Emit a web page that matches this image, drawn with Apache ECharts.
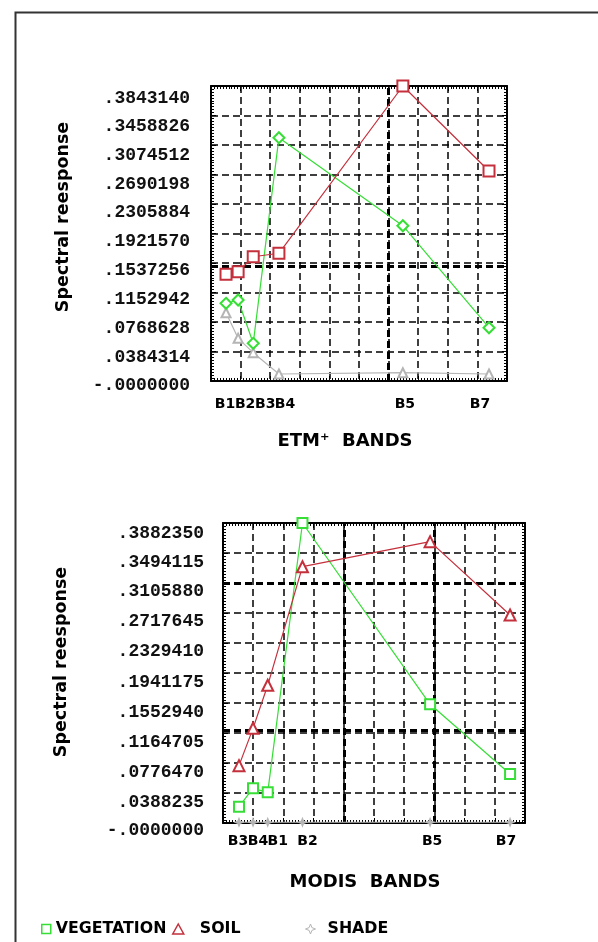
<!DOCTYPE html>
<html>
<head>
<meta charset="utf-8">
<title>Spectral response – ETM+ and MODIS bands</title>
<script src="https://cdn.jsdelivr.net/npm/echarts@6/dist/echarts.min.js"></script>
<style>
  html, body { margin: 0; padding: 0; background: #fff; }
  #chart { width: 598px; height: 942px; }
</style>
</head>
<body>
<div id="chart"></div>
<script>
// ---- ETM+ panel ----
const etmBands = ['B1', 'B2', 'B3', 'B4', 'B5', 'B7'];
const etmWave = [0.48, 0.56, 0.66, 0.83, 1.65, 2.22];           // band centres, µm
const etmVegetation = [0.1012, 0.1055, 0.0491, 0.3170, 0.2023, 0.0694];
const etmSoil = [0.1390, 0.1424, 0.1619, 0.1664, 0.384314, 0.2736];
const etmShade = [0.0890, 0.0556, 0.0369, 0.0091, 0.0108, 0.0091];
const etmTicks = ['-.0000000', '.0384314', '.0768628', '.1152942', '.1537256', '.1921570',
                  '.2305884', '.2690198', '.3074512', '.3458826', '.3843140'];

// ---- MODIS panel ----
const modisBands = ['B3', 'B4', 'B1', 'B2', 'B5', 'B7'];
const modisWave = [0.469, 0.555, 0.645, 0.858, 1.64, 2.13];     // positions on the µm scale
const modisVegetation = [0.0211, 0.0449, 0.0397, 0.388235, 0.1536, 0.0634];
const modisSoil = [0.0742, 0.1225, 0.1782, 0.3317, 0.3641, 0.2692];
const modisShade = [0.001, 0.001, 0.001, 0.001, 0.001, 0.001];
const modisTicks = ['-.0000000', '.0388235', '.0776470', '.1164705', '.1552940', '.1941175',
                    '.2329410', '.2717645', '.3105880', '.3494115', '.3882350'];

const legendNames = ['VEGETATION', 'SOIL', 'SHADE'];

const GREEN = '#36de36', RED = '#c4303c', GREY = '#b5b5b5', INK = '#000';
const SANS = '"DejaVu Sans", Verdana, sans-serif';
const MONO = '"Liberation Mono", "DejaVu Sans Mono", monospace';
const STAR = 'path://M5,0 L6.4,3.6 L10,5 L6.4,6.4 L5,10 L3.6,6.4 L0,5 L3.6,3.6 Z';

const pairs = (xs, ys) => xs.map((x, i) => [x, ys[i]]);

// per-label nudges (px) for the tick texts
function yRich(shifts) {
  const r = {};
  shifts.forEach((s, i) => { r['t' + i] = { padding: [2 * s, 0, 0, 0] }; });
  return r;
}
function xRich(shifts) {
  const r = {};
  shifts.forEach((s, i) => {
    r['b' + i] = { padding: s >= 0 ? [0, 0, 0, 2 * s] : [0, -2 * s, 0, 0] };
  });
  return r;
}

const dash = [7, 4];

// ruler ticks pointing into the plot
const rulerTick = { show: true, inside: true, length: 5, lineStyle: { color: INK, width: 1 } };
const rulerMinor = { show: true, splitNumber: 10, length: 3, lineStyle: { color: INK, width: 1 } };

// frame axes: 0..10 units with dashed grid and ruler ticks on every edge
function frameX(gridIndex, position, split) {
  return {
    type: 'value', gridIndex, position, min: 0, max: 10, interval: 1,
    axisLine: { show: true, onZero: false, lineStyle: { color: INK, width: 2 } },
    axisTick: rulerTick, minorTick: rulerMinor,
    splitLine: { show: split, lineStyle: { color: INK, width: 1.5, type: dash } },
    axisLabel: { show: false }
  };
}
function frameY(gridIndex, position, max, step, ticks, shifts, margin, nameGap, namePad) {
  const ax = {
    type: 'value', gridIndex, position, min: 0, max, interval: step,
    axisLine: { show: true, onZero: false, lineStyle: { color: INK, width: 2 } },
    axisTick: rulerTick, minorTick: rulerMinor,
    splitLine: { show: position === 'left', lineStyle: { color: INK, width: 1.5, type: dash } },
    axisLabel: { show: false }
  };
  if (ticks) {
    ax.axisLabel = {
      show: true, margin, fontFamily: MONO, fontWeight: 'bold', fontSize: 18, color: '#111',
      formatter: (v, i) => '{t' + i + '|' + ticks[i] + '}',
      rich: yRich(shifts)
    };
    ax.name = 'Spectral reesponse';
    ax.nameLocation = 'middle';
    ax.nameRotate = 90;
    ax.nameGap = nameGap;
    ax.nameTextStyle = { fontFamily: SANS, fontWeight: 'bold', fontSize: 17.5, color: INK, padding: namePad };
  }
  return ax;
}
// band-name axis; `parity` picks every other band so neighbouring names never collide
function bandX(gridIndex, min, max, waves, bands, shifts, margin, parity, title) {
  const vals = waves.filter((w, i) => i % 2 === parity);
  const ax = {
    type: 'value', gridIndex, position: 'bottom', min, max,
    axisLine: { show: false, onZero: false }, axisTick: { show: false }, splitLine: { show: false },
    axisLabel: {
      show: true, customValues: vals, margin, showMinLabel: true, showMaxLabel: true,
      hideOverlap: false,
      fontFamily: SANS, fontWeight: 'bold', fontSize: 14, color: INK,
      formatter: (v) => {
        const k = waves.indexOf(v);
        return '{b' + k + '|' + bands[k] + '}';
      },
      rich: xRich(shifts)
    }
  };
  if (title) {
    ax.name = title.text;
    ax.nameLocation = 'middle';
    ax.nameGap = title.gap;
    ax.nameTextStyle = { fontFamily: SANS, fontWeight: 'bold', fontSize: 18, color: INK, padding: title.pad };
  }
  return ax;
}
function hiddenY(gridIndex, max) {
  return { type: 'value', gridIndex, min: 0, max, show: false };
}
function lineSeries(name, color, symbol, size, xIdx, yIdx, data) {
  return {
    type: 'line', name, xAxisIndex: xIdx, yAxisIndex: yIdx, data,
    symbol, symbolSize: size, showAllSymbol: true,
    lineStyle: { color, width: 1.2 },
    itemStyle: { color, borderColor: color, borderWidth: 1.5 },
    z: 5, animation: false
  };
}
function heavyLines(xIdx, yIdx, marks) {
  return {
    type: 'line', xAxisIndex: xIdx, yAxisIndex: yIdx, data: [], silent: true, animation: false,
    markLine: {
      silent: true, symbol: ['none', 'none'], label: { show: false }, animation: false,
      lineStyle: { color: INK, width: 3, type: dash },
      data: marks
    }
  };
}

const etmMax = 0.384314, etmStep = 0.0384314;
const modisMax = 0.388235, modisStep = 0.0388235;
const etmRange = [0.3806, 2.339], modisRange = [0.371, 2.2215];
const etmShift = [-1, 7, 12, 6, 2, -9], modisShift = [-1, 5, 10, 5, 2, -4];

const legendText = { fontFamily: SANS, fontWeight: 'bold', fontSize: 15.8, color: INK };
const topRect = { left: 211, top: 86, width: 296, height: 295 };
const botRect = { left: 223, top: 523, width: 302, height: 300 };

const option = {
  backgroundColor: '#fff',
  animation: false,
  grid: [topRect, topRect, topRect, botRect, botRect, botRect],
  xAxis: [
    frameX(0, 'bottom', true),
    frameX(0, 'top', false),
    bandX(1, etmRange[0], etmRange[1], etmWave, etmBands, etmShift, 16, 0,
          { text: 'ETM\u207A  BANDS', gap: 51, pad: [0, 28, 0, 0] }),
    bandX(2, etmRange[0], etmRange[1], etmWave, etmBands, etmShift, 16, 1),
    frameX(3, 'bottom', true),
    frameX(3, 'top', false),
    bandX(4, modisRange[0], modisRange[1], modisWave, modisBands, modisShift, 11, 0,
          { text: 'MODIS  BANDS', gap: 50, pad: [0, 18, 0, 0] }),
    bandX(5, modisRange[0], modisRange[1], modisWave, modisBands, modisShift, 11, 1)
  ],
  yAxis: [
    frameY(0, 'left', etmMax, etmStep, etmTicks, [4, 5.5, 6, 6.5, 7, 7.5, 8, 9.5, 10, 10.5, 12], 21, 139, [0, 0, 0, 33]),
    frameY(0, 'right', etmMax, etmStep),
    hiddenY(1, etmMax),
    hiddenY(2, etmMax),
    frameY(3, 'left', modisMax, modisStep, modisTicks, [7, 9, 9, 9, 9, 9, 8, 8, 8, 9, 10], 19, 153, [0, 0, 0, 22]),
    frameY(3, 'right', modisMax, modisStep),
    hiddenY(4, modisMax),
    hiddenY(5, modisMax)
  ],
  legend: [
    { left: 41, top: 921, padding: 0, itemWidth: 9, itemHeight: 9, selectedMode: false,
      textStyle: legendText,
      data: [{ name: 'VEGETATION', icon: 'rect', itemStyle: { color: '#fff', borderColor: GREEN, borderWidth: 1.5 } }] },
    { left: 172, top: 921, padding: 0, itemWidth: 11, itemHeight: 10, selectedMode: false,
      textStyle: Object.assign({ padding: [0, 0, 0, 11] }, legendText),
      data: [{ name: 'SOIL', icon: 'triangle', itemStyle: { color: '#fff', borderColor: RED, borderWidth: 1.5 } }] },
    { left: 305, top: 921, padding: 0, itemWidth: 10, itemHeight: 10, selectedMode: false,
      textStyle: Object.assign({ padding: [0, 0, 0, 7] }, legendText),
      data: [{ name: 'SHADE', icon: STAR, itemStyle: { color: '#fff', borderColor: GREY, borderWidth: 1 } }] }
  ],
  graphic: [
    { type: 'rect', left: 13, top: 10, shape: { width: 700, height: 1000 },
      style: { fill: 'none', stroke: '#333', lineWidth: 2 }, silent: true, z: 0 }
  ],
  series: [
    heavyLines(0, 0, [{ yAxis: etmStep * 4 }, { xAxis: 6 }]),
    lineSeries(legendNames[2], GREY, 'emptyTriangle', 9, 2, 2, pairs(etmWave, etmShade)),
    lineSeries(legendNames[0], GREEN, 'emptyDiamond', 11, 2, 2, pairs(etmWave, etmVegetation)),
    lineSeries(legendNames[1], RED, 'emptyRect', 11, 2, 2, pairs(etmWave, etmSoil)),

    heavyLines(4, 4, [{ yAxis: modisStep * 3 }, { yAxis: modisStep * 8 }, { xAxis: 4 }, { xAxis: 7 }]),
    lineSeries(legendNames[2], GREY, STAR, 7, 6, 6, pairs(modisWave, modisShade)),
    lineSeries(legendNames[0], GREEN, 'emptyRect', 10, 6, 6, pairs(modisWave, modisVegetation)),
    lineSeries(legendNames[1], RED, 'emptyTriangle', 11, 6, 6, pairs(modisWave, modisSoil))
  ]
};

const chart = echarts.init(document.getElementById('chart'), null, { renderer: 'canvas' });
chart.setOption(option);
</script>
</body>
</html>
